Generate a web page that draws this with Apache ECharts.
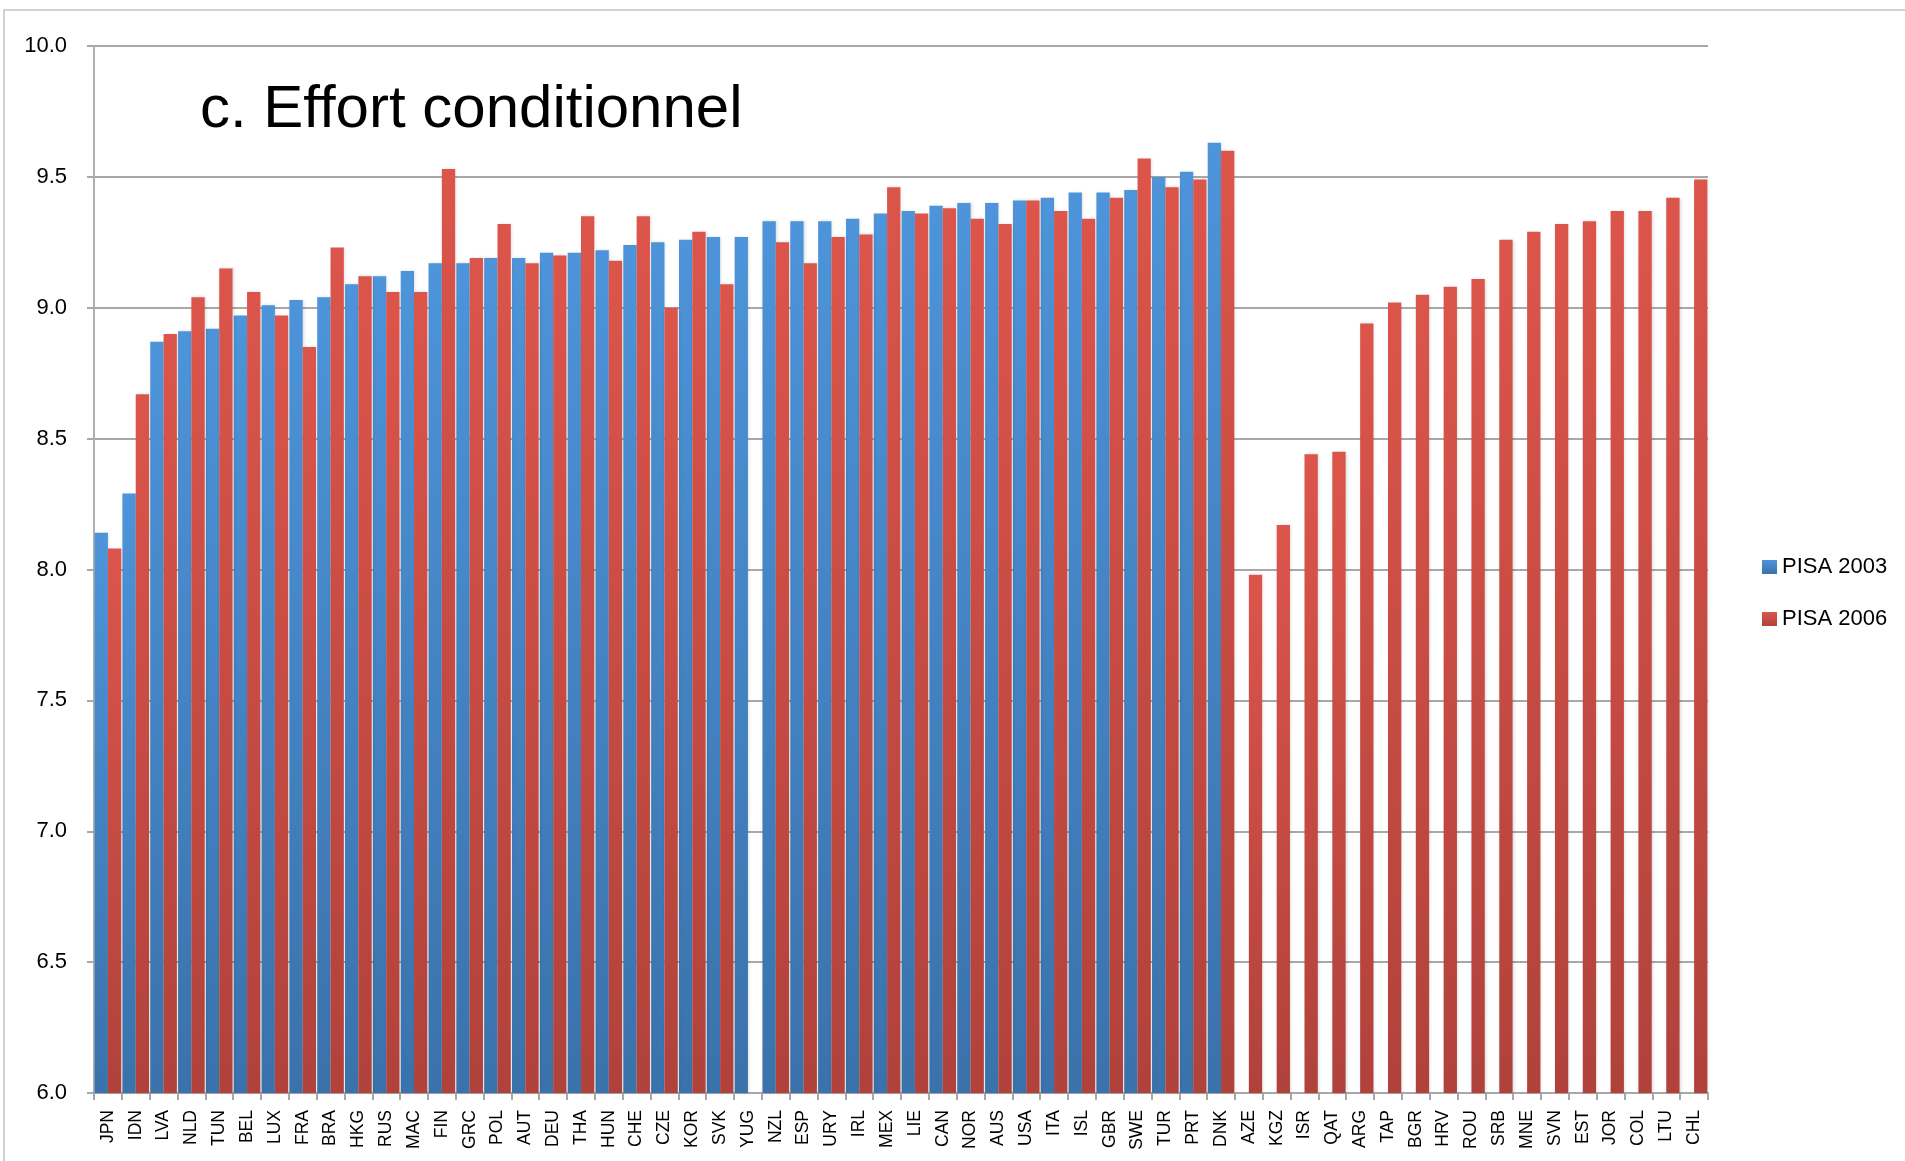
<!DOCTYPE html>
<html><head><meta charset="utf-8">
<script src="https://cdn.jsdelivr.net/npm/echarts@6/dist/echarts.min.js"></script>
<style>html,body{margin:0;padding:0;background:#fff}#c{width:1905px;height:1161px}</style>
</head><body><div id="c"></div>
<script>
const categories = ['JPN','IDN','LVA','NLD','TUN','BEL','LUX','FRA','BRA','HKG','RUS','MAC','FIN','GRC','POL','AUT','DEU','THA','HUN','CHE','CZE','KOR','SVK','YUG','NZL','ESP','URY','IRL','MEX','LIE','CAN','NOR','AUS','USA','ITA','ISL','GBR','SWE','TUR','PRT','DNK','AZE','KGZ','ISR','QAT','ARG','TAP','BGR','HRV','ROU','SRB','MNE','SVN','EST','JOR','COL','LTU','CHL'];
const pisa2003 = [8.14,8.29,8.87,8.91,8.92,8.97,9.01,9.03,9.04,9.09,9.12,9.14,9.17,9.17,9.19,9.19,9.21,9.21,9.22,9.24,9.25,9.26,9.27,9.27,9.33,9.33,9.33,9.34,9.36,9.37,9.39,9.40,9.40,9.41,9.42,9.44,9.44,9.45,9.50,9.52,9.63,null,null,null,null,null,null,null,null,null,null,null,null,null,null,null,null,null];
const pisa2006 = [8.08,8.67,8.90,9.04,9.15,9.06,8.97,8.85,9.23,9.12,9.06,9.06,9.53,9.19,9.32,9.17,9.20,9.35,9.18,9.35,9.00,9.29,9.09,null,9.25,9.17,9.27,9.28,9.46,9.36,9.38,9.34,9.32,9.41,9.37,9.34,9.42,9.57,9.46,9.49,9.60,7.98,8.17,8.44,8.45,8.94,9.02,9.05,9.08,9.11,9.26,9.29,9.32,9.33,9.37,9.37,9.42,9.49];
const yTicks = [6.0,6.5,7.0,7.5,8.0,8.5,9.0,9.5,10.0];
const titleText = 'c. Effort conditionnel';
const seriesNames = ['PISA 2003','PISA 2006'];

const chart = echarts.init(document.getElementById('c'));
const grad = (a,b)=>new echarts.graphic.LinearGradient(0,0,0,1,[{offset:0,color:a},{offset:1,color:b}]);
const FONT = "'Liberation Sans', Arial, sans-serif";
chart.setOption({
  animation:false,
  backgroundColor:'#fff',
  graphic:[
    {type:'rect',shape:{x:4,y:10,width:2000,height:1300},style:{fill:'none',stroke:'#c4c4c4',lineWidth:1.5},silent:true,z:-1},
    {type:'text',left:200,top:80,style:{text:titleText,font:"60px 'Liberation Sans', Arial, sans-serif",fill:'#000'}}
  ],
  legend:{
    orient:'vertical',left:1757,top:551,itemWidth:15,itemHeight:14,itemGap:30,
    icon:'rect',
    textStyle:{fontFamily:FONT,fontSize:22,color:'#000',padding:[0,0,0,0]},
    data:seriesNames
  },
  grid:{left:94,top:46,width:1614,height:1047,containLabel:false},
  xAxis:{
    type:'category',data:categories,
    axisLine:{lineStyle:{color:'#a8a8a8',width:2}},
    axisTick:{show:true,length:7,lineStyle:{color:'#a8a8a8',width:2}},
    axisLabel:{rotate:90,interval:0,fontFamily:FONT,fontSize:17.5,color:'#000',margin:17}
  },
  yAxis:{
    type:'value',min:6,max:10,interval:0.5,
    axisLine:{show:true,lineStyle:{color:'#b0b0b0',width:2}},
    axisTick:{show:true,length:7,lineStyle:{color:'#a8a8a8',width:2}},
    splitLine:{lineStyle:{color:'#a8a8a8',width:2}},
    axisLabel:{fontFamily:FONT,fontSize:22,color:'#000',margin:27,formatter:v=>v.toFixed(1)}
  },
  series:[
    {name:seriesNames[0],type:'bar',data:pisa2003,barWidth:13.3,barGap:'0%',
     itemStyle:{color:grad('#4d94da','#3a72ab'),shadowColor:'rgba(0,0,0,0.15)',shadowBlur:3,shadowOffsetX:1}},
    {name:seriesNames[1],type:'bar',data:pisa2006,barWidth:13.3,
     itemStyle:{color:grad('#dc554b','#b0423b'),shadowColor:'rgba(0,0,0,0.15)',shadowBlur:3,shadowOffsetX:1}}
  ]
});
</script></body></html>
